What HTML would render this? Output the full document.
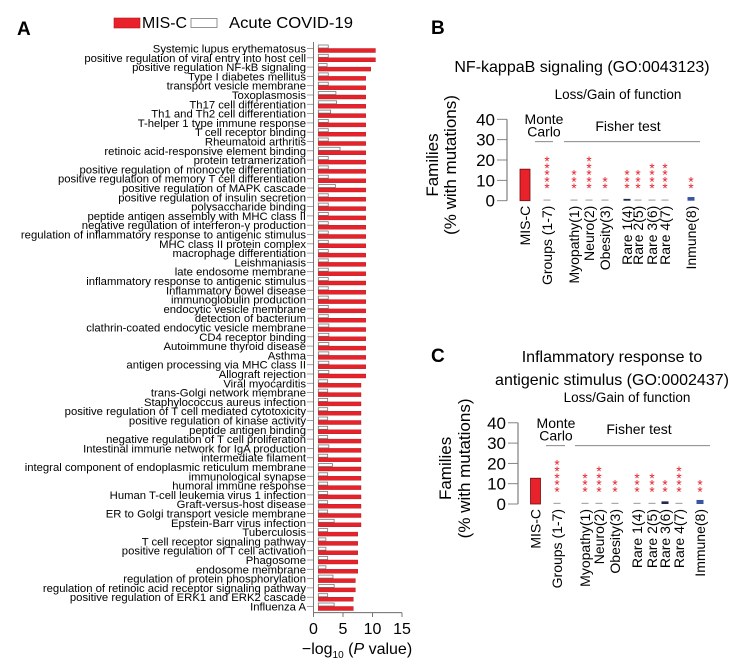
<!DOCTYPE html>
<html><head><meta charset="utf-8">
<style>
html,body{margin:0;padding:0;background:#fff;}
svg{display:block;font-family:"Liberation Sans",Arial,sans-serif;}
</style></head>
<body>
<svg id="fig" width="746" height="668" viewBox="0 0 746 668"></svg>
<script>
// ---------- Panel A data ----------
const termsA = ["Systemic lupus erythematosus","positive regulation of viral entry into host cell","positive regulation NF-kB signaling","Type I diabetes mellitus","transport vesicle membrane","Toxoplasmosis","Th17 cell differentiation","Th1 and Th2 cell differentiation","T-helper 1 type immune response","T cell receptor binding","Rheumatoid arthritis","retinoic acid-responsive element binding","protein tetramerization","positive regulation of monocyte differentiation","positive regulation of memory T cell differentiation","positive regulation of MAPK cascade","positive regulation of insulin secretion","polysaccharide binding","peptide antigen assembly with MHC class II","negative regulation of interferon-γ production","regulation of inflammatory response to antigenic stimulus","MHC class II protein complex","macrophage differentiation","Leishmaniasis","late endosome membrane","inflammatory response to antigenic stimulus","Inflammatory bowel disease","immunoglobulin production","endocytic vesicle membrane","detection of bacterium","clathrin-coated endocytic vesicle membrane","CD4 receptor binding","Autoimmune thyroid disease","Asthma","antigen processing via MHC class II","Allograft rejection","Viral myocarditis","trans-Golgi network membrane","Staphylococcus aureus infection","positive regulation of T cell mediated cytotoxicity","positive regulation of kinase activity","peptide antigen binding","negative regulation of T cell proliferation","Intestinal immune network for IgA production","intermediate filament","integral component of endoplasmic reticulum membrane","immunological synapse","humoral immune response","Human T-cell leukemia virus 1 infection","Graft-versus-host disease","ER to Golgi transport vesicle membrane","Epstein-Barr virus infection","Tuberculosis","T cell receptor signaling pathway","positive regulation of T cell activation","Phagosome","endosome membrane","regulation of protein phosphorylation","regulation of retinoic acid receptor signaling pathway","positive regulation of ERK1 and ERK2 cascade","Influenza A"];
const miscA = [10.5,10.5,9.7,8.85,8.85,8.85,8.85,8.85,8.85,8.85,8.85,8.85,8.85,8.85,8.85,8.85,8.85,8.85,8.85,8.85,8.85,8.85,8.85,8.85,8.85,8.85,8.85,8.85,8.85,8.85,8.85,8.85,8.85,8.85,8.85,8.85,8.05,8.05,8.05,8.05,8.05,8.05,8.05,8.05,8.05,8.05,8.05,8.05,8.05,8.05,8.05,8.05,7.5,7.5,7.5,7.5,7.5,7.1,7.1,6.75,6.75];
const covidA = [2.5,2.5,2.3,2.5,2.5,3.8,3.9,2.9,2.5,2.5,2.5,4.5,2.5,2.5,2.5,3.7,2.5,2.5,2.5,2.5,2.5,2.5,2.5,2.5,2.5,2.5,2.5,2.5,2.5,2.5,2.6,2.6,2.6,2.6,2.6,2.6,2.4,2.4,2.4,2.4,2.4,2.4,2.4,2.6,2.4,3.2,2.4,2.4,2.4,2.4,2.4,3.5,2.4,2.1,2.1,2.4,2.1,3.3,3.5,2.4,3.5];
const ticksA = [0,5,10,15];

// ---------- Panels B / C data ----------
const groupsBC = ["MIS-C","Groups (1-7)","Myopathy(1)","Neuro(2)","Obesity(3)","Rare 1(4)","Rare 2(5)","Rare 3(6)","Rare 4(7)","Inmune(8)"];
const groupsC = ["MIS-C","Groups (1-7)","Myopathy(1)","Neuro(2)","Obesity(3)","Rare 1(4)","Rare 2(5)","Rare 3(6)","Rare 4(7)","Immune(8)"];
const valuesB = [15.5,0.3,0.3,0.3,0.3,0.6,0.3,0.3,0.3,1.5];
const starsB = [0,5,3,5,2,3,3,4,4,2];
const valuesC = [12.7,0.3,0.3,0.3,0.3,0.3,0.3,1.0,0.3,1.7];
const starsC = [0,5,3,4,2,3,3,2,4,2];
const ticksBC = [0,10,20,30,40];

const svg = document.getElementById('fig');
const NS = 'http://www.w3.org/2000/svg';
function mk(tag, attrs, text){
  const e = document.createElementNS(NS, tag);
  for (const k in attrs) e.setAttribute(k, attrs[k]);
  if (text !== undefined) e.textContent = text;
  svg.appendChild(e);
  return e;
}

// ---------- Panel A ----------
const x0A = 313.5, pxA = 5.9, barStart = 318.3;
const xA = v => x0A + v * pxA;
const yTop = 48.5, pitch = (606.5 - 48.5) / (termsA.length - 1);
const yA = i => yTop + i * pitch;

let t;
t = mk('text',{x:17,y:35,'font-size':19,'font-weight':'bold'},'A');
 
// legend
t = mk('rect',{x:114,y:18,width:26,height:10,fill:'#e8212a',stroke:'#b01a1f','stroke-width':0.6});
 
t = mk('text',{x:142,y:28,'font-size':16,textLength:45,lengthAdjust:'spacingAndGlyphs'},'MIS-C');
 
t = mk('rect',{x:191,y:18.5,width:26,height:9,fill:'#fff',stroke:'#777','stroke-width':0.8});
 
t = mk('text',{x:229,y:28,'font-size':16,textLength:124,lengthAdjust:'spacingAndGlyphs'},'Acute COVID-19');
 

termsA.forEach((name,i)=>{
  const y = yA(i);
  const lab = mk('text',{x:306,y:y+4,'font-size':11.3,'text-anchor':'end'},name);
  
  
  const tk = mk('line',{x1:307,x2:313.5,y1:y,y2:y,stroke:'#888','stroke-width':0.8});
  
  
  const g = mk('rect',{x:barStart,y:y-3.5,width:xA(covidA[i])-barStart,height:3,fill:'#fff',stroke:'#777','stroke-width':0.8});
  
  
  const r = mk('rect',{x:barStart,y:y,width:xA(miscA[i])-barStart,height:4,fill:'#e8212a',stroke:'#a01a1a','stroke-width':0.4});
  
  
});
t = mk('line',{x1:313.5,x2:313.5,y1:42,y2:612.7,stroke:'#555','stroke-width':0.8});
 
t = mk('line',{x1:313.5,x2:xA(15),y1:612.7,y2:612.7,stroke:'#555','stroke-width':0.8});
 
ticksA.forEach(v=>{
  const l = mk('line',{x1:xA(v),x2:xA(v),y1:612.7,y2:617,stroke:'#555','stroke-width':0.8});
  
  
  const tx = mk('text',{x:xA(v),y:634,'font-size':16,'text-anchor':'middle'},String(v));
  
  
});
t = mk('text',{x:357,y:654,'font-size':16,'text-anchor':'middle'});
 
t.innerHTML = '\u2212log<tspan font-size="10" dy="4">10</tspan><tspan dy="-4"> (</tspan><tspan font-style="italic">P</tspan> value)';

// ---------- Panels B/C ----------
function panel(cfg){
  const yv = v => cfg.y0 - v * cfg.py;
  let e;
  e = mk('text',{x:cfg.lx,y:cfg.ly,'font-size':19,'font-weight':'bold'},cfg.letter);
   
  cfg.title.forEach((s,k)=>{
    const tt = mk('text',{x:cfg.tx,y:cfg.ty+k*23,'font-size':16,'text-anchor':'middle'},s);
    
    
  });
  e = mk('text',{x:cfg.lgx,y:cfg.lgy,'font-size':13.5,'text-anchor':'middle'},'Loss/Gain of function');
   
  const cy = (yv(0)+yv(40))/2 + 5;
  e = mk('text',{x:cfg.yt1,y:cy,'font-size':17,'text-anchor':'middle',transform:`rotate(-90 ${cfg.yt1} ${cy})`},'Families');
   
  e = mk('text',{x:cfg.yt2,y:cy,'font-size':17,'text-anchor':'middle',transform:`rotate(-90 ${cfg.yt2} ${cy})`},'(% with mutations)');
   
  e = mk('line',{x1:cfg.ax,x2:cfg.ax,y1:yv(40),y2:yv(0),stroke:'#555','stroke-width':0.9});
   
  ticksBC.forEach(v=>{
    const l = mk('line',{x1:cfg.ax-10,x2:cfg.ax,y1:yv(v),y2:yv(v),stroke:'#777','stroke-width':0.9});
    
    
    const tx = mk('text',{x:cfg.ax-12,y:yv(v)+6,'font-size':17,'text-anchor':'end'},String(v));
    
    
  });
  e = mk('text',{x:cfg.mcx,y:cfg.mcy,'font-size':14,'text-anchor':'middle'},'Monte');
   
  e = mk('text',{x:cfg.mcx,y:cfg.mcy+12.5,'font-size':14,'text-anchor':'middle'},'Carlo');
   
  e = mk('line',{x1:cfg.mcl[0],x2:cfg.mcl[1],y1:cfg.liney,y2:cfg.liney,stroke:'#777','stroke-width':0.9});
   
  e = mk('text',{x:cfg.fx,y:cfg.fy,'font-size':14,'text-anchor':'middle'},'Fisher test');
   
  e = mk('line',{x1:cfg.fl[0],x2:cfg.fl[1],y1:cfg.liney,y2:cfg.liney,stroke:'#777','stroke-width':0.9});
   
  cfg.cats.forEach((c,i)=>{
    const x = cfg.xs[i], v = cfg.vals[i];
    let b;
    if (i===0){
      b = mk('rect',{x:x-5,y:yv(v),width:10,height:yv(0)-yv(v),fill:'#e8212a',stroke:'#6a1010','stroke-width':0.8});
    } else {
      const col = c.startsWith('Inmune')||c.startsWith('Immune') ? '#3a55a0' : (v>=0.5 ? '#222a50' : '#aaa');
      b = mk('rect',{x:x-3.5,y:yv(v)-0.6,width:7,height:Math.max(1.2,yv(0)-yv(v)+0.6),fill:col});
    }
    
    
    for (let s=0;s<cfg.stars[i];s++){
      const st = mk('text',{x:x,y:cfg.starBase - s*6.8 + 8.5,'font-size':13.5,'text-anchor':'middle',fill:'#e8212a'},'*');
      
      
    }
    const ly = yv(0)+5;
    const lb = mk('text',{x:x+5,y:ly,'font-size':14,'text-anchor':'end',transform:`rotate(-90 ${x+5} ${ly})`},c);
    
    
  });
}

panel({id:'panel-b',letter:'B',lx:431,ly:34,title:['NF-kappaB signaling (GO:0043123)'],tx:582,ty:72,lgx:618,lgy:99,
  yt1:438,yt2:456,ax:507,y0:200.7,py:2.035,mcx:544,mcy:124,mcl:[535,553],fx:628,fy:131,fl:[564,700],liney:141.7,
  xs:[525,547,574,589,605,627,638,652,665,691],cats:groupsBC,vals:valuesB,stars:starsB,starBase:184.7});
panel({id:'panel-c',letter:'C',lx:431,ly:362,title:['Inflammatory response to','antigenic stimulus (GO:0002437)'],tx:612,ty:362,lgx:627,lgy:402,
  yt1:451,yt2:470,ax:518,y0:504,py:2.03,mcx:556,mcy:428,mcl:[546,565],fx:639,fy:434,fl:[575,710],liney:445.7,
  xs:[535.5,557,585,599,615,637,652,665,679,700],cats:groupsC,vals:valuesC,stars:starsC,starBase:488});
</script>
</body></html>
